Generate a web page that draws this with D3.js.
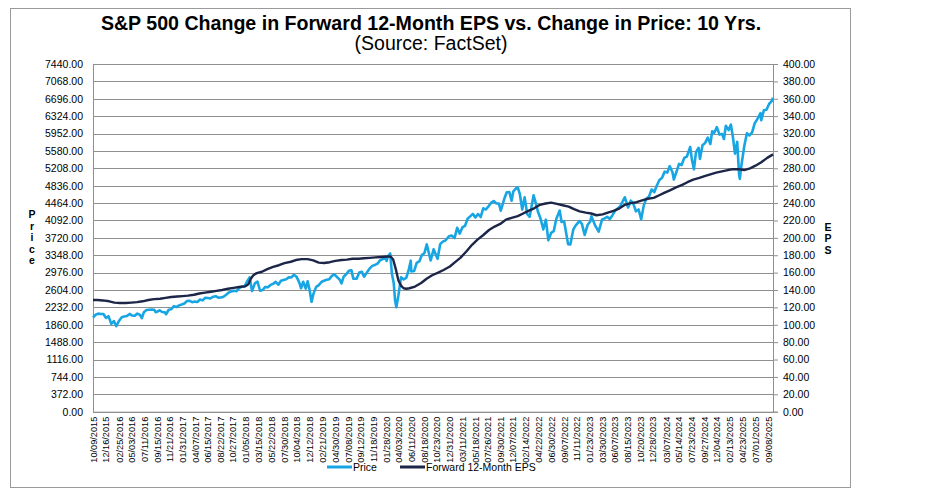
<!DOCTYPE html>
<html>
<head>
<meta charset="utf-8">
<script src="https://cdn.jsdelivr.net/npm/d3@7"></script>
<style>
  body { margin: 0; background: #fff; }
  svg { display: block; font-family: "Liberation Sans", Arial, sans-serif; }
</style>
</head>
<body>
<svg id="chart" width="951" height="496"></svg>
<script>
// ---- data ----
const xTickLabels = [
  '10/09/2015','12/16/2015','02/25/2016','05/03/2016','07/11/2016','09/15/2016','11/21/2016',
  '01/31/2017','04/07/2017','06/15/2017','08/22/2017','10/27/2017','01/05/2018','03/15/2018',
  '05/22/2018','07/30/2018','10/04/2018','12/12/2018','02/21/2019','04/30/2019','07/08/2019',
  '09/12/2019','11/18/2019','01/28/2020','04/03/2020','06/11/2020','08/18/2020','10/23/2020',
  '12/31/2020','03/11/2021','05/18/2021','07/26/2021','09/30/2021','12/07/2021','02/14/2022',
  '04/22/2022','06/30/2022','09/07/2022','11/11/2022','01/23/2023','03/30/2023','06/07/2023',
  '08/15/2023','10/20/2023','12/28/2023','03/07/2024','05/14/2024','07/23/2024','09/27/2024',
  '12/04/2024','02/13/2025','04/23/2025','07/01/2025','09/08/2025'
];

const priceTicks = [0,372,744,1116,1488,1860,2232,2604,2976,3348,3720,4092,4464,4836,5208,5580,5952,6324,6696,7068,7440];
const epsTicks = [0,20,40,60,80,100,120,140,160,180,200,220,240,260,280,300,320,340,360,380,400];

// S&P 500 price
const priceSeries = [
  ['2015-10-09',2014],['2015-10-23',2075],['2015-11-06',2099],['2015-11-20',2089],['2015-12-04',2091],
  ['2015-12-18',2005],['2015-12-31',2044],['2016-01-15',1880],['2016-01-29',1940],['2016-02-11',1829],
  ['2016-02-26',1948],['2016-03-11',2022],['2016-03-24',2035],['2016-04-08',2047],['2016-04-22',2092],
  ['2016-05-06',2057],['2016-05-20',2052],['2016-06-03',2099],['2016-06-17',2071],['2016-06-27',2001],
  ['2016-07-08',2130],['2016-07-22',2175],['2016-08-05',2183],['2016-08-19',2184],['2016-09-02',2180],
  ['2016-09-09',2128],['2016-09-16',2139],['2016-09-30',2168],['2016-10-14',2133],['2016-10-28',2126],
  ['2016-11-04',2085],['2016-11-18',2182],['2016-12-02',2192],['2016-12-16',2258],['2016-12-30',2239],
  ['2017-01-13',2275],['2017-01-27',2295],['2017-02-10',2316],['2017-02-24',2367],['2017-03-10',2373],
  ['2017-03-24',2344],['2017-04-07',2356],['2017-04-21',2349],['2017-05-05',2399],['2017-05-19',2382],
  ['2017-06-02',2439],['2017-06-16',2433],['2017-06-30',2423],['2017-07-14',2459],['2017-07-28',2472],
  ['2017-08-11',2441],['2017-08-25',2443],['2017-09-08',2461],['2017-09-22',2502],['2017-10-06',2549],
  ['2017-10-20',2575],['2017-11-03',2587],['2017-11-17',2579],['2017-12-01',2642],['2017-12-15',2675],
  ['2017-12-29',2674],['2018-01-12',2786],['2018-01-26',2873],['2018-02-08',2581],['2018-02-23',2747],
  ['2018-03-09',2786],['2018-03-23',2588],['2018-04-06',2604],['2018-04-20',2670],['2018-05-04',2663],
  ['2018-05-18',2713],['2018-06-01',2735],['2018-06-15',2780],['2018-06-29',2718],['2018-07-13',2801],
  ['2018-07-27',2819],['2018-08-10',2833],['2018-08-24',2875],['2018-09-07',2872],['2018-09-20',2930],
  ['2018-10-05',2886],['2018-10-19',2768],['2018-10-29',2641],['2018-11-09',2781],['2018-11-23',2633],
  ['2018-12-03',2790],['2018-12-14',2600],['2018-12-24',2351],['2019-01-04',2532],['2019-01-18',2671],
  ['2019-02-01',2707],['2019-02-15',2776],['2019-03-01',2804],['2019-03-15',2822],['2019-03-29',2834],
  ['2019-04-12',2907],['2019-04-26',2940],['2019-05-10',2881],['2019-05-24',2826],['2019-06-03',2744],
  ['2019-06-14',2887],['2019-06-28',2942],['2019-07-12',3014],['2019-07-26',3026],['2019-08-05',2844],
  ['2019-08-23',2847],['2019-09-06',2979],['2019-09-20',2992],['2019-10-02',2888],['2019-10-18',2986],
  ['2019-11-01',3067],['2019-11-15',3120],['2019-11-29',3141],['2019-12-13',3169],['2019-12-27',3240],
  ['2020-01-10',3265],['2020-01-24',3295],['2020-01-31',3226],['2020-02-07',3328],['2020-02-19',3386],
  ['2020-02-28',2954],['2020-03-09',2747],['2020-03-16',2386],['2020-03-23',2237],['2020-04-03',2489],
  ['2020-04-17',2875],['2020-05-01',2831],['2020-05-15',2864],['2020-05-29',3044],['2020-06-08',3232],
  ['2020-06-11',3002],['2020-06-26',3009],['2020-07-10',3185],['2020-07-24',3216],['2020-08-07',3351],
  ['2020-08-21',3397],['2020-09-02',3580],['2020-09-23',3237],['2020-10-09',3477],['2020-10-30',3270],
  ['2020-11-13',3585],['2020-11-27',3638],['2020-12-11',3663],['2020-12-31',3756],['2021-01-15',3768],
  ['2021-01-29',3714],['2021-02-12',3934],['2021-02-26',3811],['2021-03-12',3943],['2021-03-26',3975],
  ['2021-04-09',4129],['2021-04-23',4180],['2021-05-07',4233],['2021-05-21',4156],['2021-06-04',4230],
  ['2021-06-18',4166],['2021-07-02',4352],['2021-07-16',4327],['2021-07-30',4395],['2021-08-13',4468],
  ['2021-08-27',4509],['2021-09-10',4458],['2021-09-24',4455],['2021-10-04',4300],['2021-10-22',4545],
  ['2021-11-05',4697],['2021-11-19',4698],['2021-12-01',4513],['2021-12-10',4712],['2021-12-27',4791],
  ['2022-01-03',4797],['2022-01-14',4663],['2022-01-27',4327],['2022-02-09',4587],['2022-02-23',4226],
  ['2022-03-08',4171],['2022-03-29',4632],['2022-04-08',4488],['2022-04-22',4272],['2022-05-06',4123],
  ['2022-05-20',3901],['2022-06-03',4109],['2022-06-16',3667],['2022-07-01',3825],['2022-07-15',3863],
  ['2022-07-29',4130],['2022-08-16',4305],['2022-08-26',4058],['2022-09-09',4068],['2022-09-30',3586],
  ['2022-10-12',3577],['2022-10-28',3901],['2022-11-11',3993],['2022-11-30',4080],['2022-12-13',4019],
  ['2022-12-28',3783],['2023-01-13',3999],['2023-01-27',4070],['2023-02-02',4180],['2023-02-24',3970],
  ['2023-03-13',3855],['2023-03-31',4109],['2023-04-14',4137],['2023-04-28',4169],['2023-05-12',4124],
  ['2023-05-26',4205],['2023-06-09',4299],['2023-06-23',4348],['2023-07-07',4399],['2023-07-31',4589],
  ['2023-08-18',4370],['2023-09-01',4516],['2023-09-15',4450],['2023-09-29',4288],['2023-10-13',4328],
  ['2023-10-27',4117],['2023-11-10',4415],['2023-11-24',4559],['2023-12-08',4604],['2023-12-22',4755],
  ['2024-01-05',4697],['2024-01-19',4840],['2024-02-02',4959],['2024-02-16',5005],['2024-03-01',5137],
  ['2024-03-15',5117],['2024-03-28',5254],['2024-04-12',5123],['2024-04-19',4967],['2024-05-03',5128],
  ['2024-05-17',5303],['2024-05-31',5278],['2024-06-14',5431],['2024-06-28',5460],['2024-07-16',5667],
  ['2024-07-25',5399],['2024-08-05',5186],['2024-08-16',5554],['2024-08-30',5648],['2024-09-06',5408],
  ['2024-09-20',5703],['2024-10-04',5751],['2024-10-18',5865],['2024-11-01',5729],['2024-11-11',6001],
  ['2024-11-22',5969],['2024-12-06',6090],['2024-12-20',5930],['2025-01-03',5942],['2025-01-13',5836],
  ['2025-01-23',6119],['2025-02-07',6026],['2025-02-19',6144],['2025-03-03',5850],['2025-03-13',5522],
  ['2025-03-25',5776],['2025-04-04',5074],['2025-04-08',4982],['2025-04-17',5283],['2025-05-02',5686],
  ['2025-05-16',5958],['2025-05-30',5912],['2025-06-13',5977],['2025-06-27',6173],['2025-07-11',6260],
  ['2025-07-28',6390],['2025-08-01',6238],['2025-08-15',6450],['2025-08-29',6460],['2025-09-12',6584],
  ['2025-09-26',6644],['2025-10-03',6716]
];

// forward 12-month EPS
const epsSeries = [
  ['2015-10-09',128.5],['2015-11-02',128.5],['2015-12-01',128],['2016-01-04',127],['2016-02-01',125.5],
  ['2016-03-01',125],['2016-04-01',125],['2016-05-02',125.5],['2016-06-01',126],['2016-07-01',127],
  ['2016-08-01',128.5],['2016-09-01',129.5],['2016-10-03',130],['2016-11-01',131],['2016-12-01',132],
  ['2017-01-03',132.5],['2017-02-01',133],['2017-03-01',133.5],['2017-04-03',134.5],['2017-05-01',136],
  ['2017-06-01',137],['2017-07-03',138],['2017-08-01',139],['2017-09-01',140],['2017-10-02',141.5],
  ['2017-11-01',142.5],['2017-12-01',143.5],['2018-01-05',144.5],['2018-01-19',146.5],['2018-02-01',153],
  ['2018-02-15',157],['2018-03-01',159],['2018-03-15',160],['2018-04-02',161],['2018-05-01',164],
  ['2018-06-01',166.5],['2018-07-02',168.5],['2018-08-01',171],['2018-09-04',172.5],['2018-10-01',174.5],
  ['2018-11-01',175.5],['2018-12-03',175.5],['2019-01-02',174],['2019-02-01',171.5],['2019-03-01',171],
  ['2019-04-01',172],['2019-05-01',173.5],['2019-06-03',174.5],['2019-07-01',175],['2019-08-01',176],
  ['2019-09-03',176],['2019-10-01',176.5],['2019-11-01',177],['2019-12-02',177.5],['2020-01-02',178],
  ['2020-02-03',178.5],['2020-02-21',178.5],['2020-03-06',175],['2020-03-20',164],['2020-04-03',151],
  ['2020-04-17',145],['2020-05-01',142],['2020-05-15',141.5],['2020-06-01',142],['2020-07-01',144],
  ['2020-08-03',148],['2020-09-01',153],['2020-10-01',157],['2020-11-02',160],['2020-12-01',163],
  ['2021-01-04',167],['2021-02-01',172],['2021-03-01',177],['2021-04-01',184],['2021-05-03',192],
  ['2021-06-01',198],['2021-07-01',203],['2021-08-02',209],['2021-09-01',213],['2021-10-01',216],
  ['2021-11-01',221],['2021-12-01',223],['2022-01-03',225],['2022-02-01',228],['2022-03-01',231],
  ['2022-04-01',234],['2022-05-02',238],['2022-06-01',239.5],['2022-07-01',240.5],['2022-08-01',239],
  ['2022-09-01',237.5],['2022-10-03',236],['2022-11-01',233],['2022-12-01',230.5],['2023-01-03',229],
  ['2023-02-01',228],['2023-03-01',226],['2023-04-03',227],['2023-05-01',229],['2023-06-01',231],
  ['2023-07-03',234],['2023-08-01',238],['2023-09-01',240],['2023-10-02',241],['2023-11-01',243],
  ['2023-12-01',245],['2024-01-02',246],['2024-02-01',249],['2024-03-01',252],['2024-04-01',255],
  ['2024-05-01',258],['2024-06-03',261],['2024-07-01',264],['2024-08-01',267],['2024-09-03',269],
  ['2024-10-01',271],['2024-11-01',273],['2024-12-02',275],['2025-01-02',276.5],['2025-02-03',278],
  ['2025-03-03',279],['2025-04-01',279],['2025-05-01',278],['2025-06-02',280],['2025-07-01',283],
  ['2025-08-01',287],['2025-09-02',292],['2025-10-03',296]
];

// ---- layout ----
const svg = d3.select('#chart');
const plot = { left: 93, right: 773, top: 64, bottom: 411.7 };
const priceColor = '#18a5e3';
const epsColor = '#1c2648';
const gridColor = '#8f8f8f';

const parseIso = d3.timeParse('%Y-%m-%d');
const parseUs = d3.timeParse('%m/%d/%Y');

const price = priceSeries.map(d => ({ date: parseIso(d[0]), value: d[1] }));
const eps = epsSeries.map(d => ({ date: parseIso(d[0]), value: d[1] }));

const x = d3.scaleTime()
  .domain([parseIso('2015-10-09'), parseIso('2025-10-03')])
  .range([plot.left, plot.right]);

const yPrice = d3.scaleLinear().domain([0, 7440]).range([plot.bottom, plot.top]);
const yEps = d3.scaleLinear().domain([0, 400]).range([plot.bottom, plot.top]);

// outer frame
svg.append('rect')
  .attr('x', 10.5).attr('y', 8.5)
  .attr('width', 840).attr('height', 479)
  .attr('fill', 'none').attr('stroke', '#9a9a9a').attr('stroke-width', 1);

// title
svg.append('text')
  .attr('x', 431).attr('y', 30)
  .attr('text-anchor', 'middle')
  .attr('font-size', 19.6).attr('font-weight', 'bold').attr('fill', '#000')
  .text('S&P 500 Change in Forward 12-Month EPS vs. Change in Price: 10 Yrs.');

svg.append('text')
  .attr('x', 431).attr('y', 50)
  .attr('text-anchor', 'middle')
  .attr('font-size', 19.5).attr('fill', '#000')
  .text('(Source: FactSet)');

// gridlines
svg.append('g')
  .selectAll('line')
  .data(priceTicks)
  .join('line')
    .attr('x1', plot.left).attr('x2', plot.right)
    .attr('y1', d => Math.round(yPrice(d)) + 0.5)
    .attr('y2', d => Math.round(yPrice(d)) + 0.5)
    .attr('stroke', gridColor).attr('stroke-width', 1);

// left axis
const leftAxis = svg.append('g')
  .attr('transform', `translate(${plot.left},0)`)
  .call(d3.axisLeft(yPrice).tickValues(priceTicks).tickFormat(d3.format('.2f')).tickSize(0).tickPadding(10));
leftAxis.select('.domain').attr('stroke', gridColor);
leftAxis.selectAll('text').attr('font-size', 10.5).attr('fill', '#000').attr('font-family', null);

// right axis
const rightAxis = svg.append('g')
  .attr('transform', `translate(${plot.right},0)`)
  .call(d3.axisRight(yEps).tickValues(epsTicks).tickFormat(d3.format('.2f')).tickSize(5).tickPadding(5));
rightAxis.select('.domain').attr('stroke', gridColor);
rightAxis.selectAll('.tick line').attr('stroke', gridColor);
rightAxis.selectAll('text').attr('font-size', 10.5).attr('fill', '#000').attr('font-family', null);

// bottom axis with rotated date labels
const bottomAxis = svg.append('g')
  .attr('transform', `translate(0,${plot.bottom})`)
  .call(d3.axisBottom(x)
    .tickValues(xTickLabels.map(parseUs))
    .tickFormat(d3.timeFormat('%m/%d/%Y'))
    .tickSize(0));
bottomAxis.select('.domain').attr('stroke', gridColor);
bottomAxis.selectAll('text')
  .attr('font-size', 9.2).attr('fill', '#000').attr('font-family', null)
  .attr('text-anchor', 'end')
  .attr('transform', 'rotate(-90)')
  .attr('x', -5).attr('y', 0).attr('dy', '0.35em');

// stacked axis titles
svg.append('g').selectAll('text')
  .data('Price'.split(''))
  .join('text')
    .attr('x', 32).attr('y', (d, i) => 218 + i * 11.5)
    .attr('text-anchor', 'middle')
    .attr('font-size', 10.5).attr('font-weight', 'bold')
    .text(d => d);

svg.append('g').selectAll('text')
  .data('EPS'.split(''))
  .join('text')
    .attr('x', 828).attr('y', (d, i) => 231 + i * 11.3)
    .attr('text-anchor', 'middle')
    .attr('font-size', 10.5).attr('font-weight', 'bold')
    .text(d => d);

// lines
const priceLine = d3.line().x(d => x(d.date)).y(d => yPrice(d.value));
const epsLine = d3.line().x(d => x(d.date)).y(d => yEps(d.value));

svg.append('path')
  .datum(price)
  .attr('d', priceLine)
  .attr('fill', 'none').attr('stroke', priceColor)
  .attr('stroke-width', 2.6).attr('stroke-linejoin', 'round');

svg.append('path')
  .datum(eps)
  .attr('d', epsLine)
  .attr('fill', 'none').attr('stroke', epsColor)
  .attr('stroke-width', 2.4).attr('stroke-linejoin', 'round');

// legend
const legendItems = [
  { label: 'Price', color: priceColor, x: 327 },
  { label: 'Forward 12-Month EPS', color: epsColor, x: 400 }
];
const legend = svg.append('g').selectAll('g')
  .data(legendItems)
  .join('g')
    .attr('transform', d => `translate(${d.x},467)`);
legend.append('line')
  .attr('x1', 0).attr('x2', 25)
  .attr('stroke', d => d.color).attr('stroke-width', 3);
legend.append('text')
  .attr('x', 26).attr('dy', '0.35em')
  .attr('font-size', 10.5)
  .text(d => d.label);
</script>
</body>
</html>
